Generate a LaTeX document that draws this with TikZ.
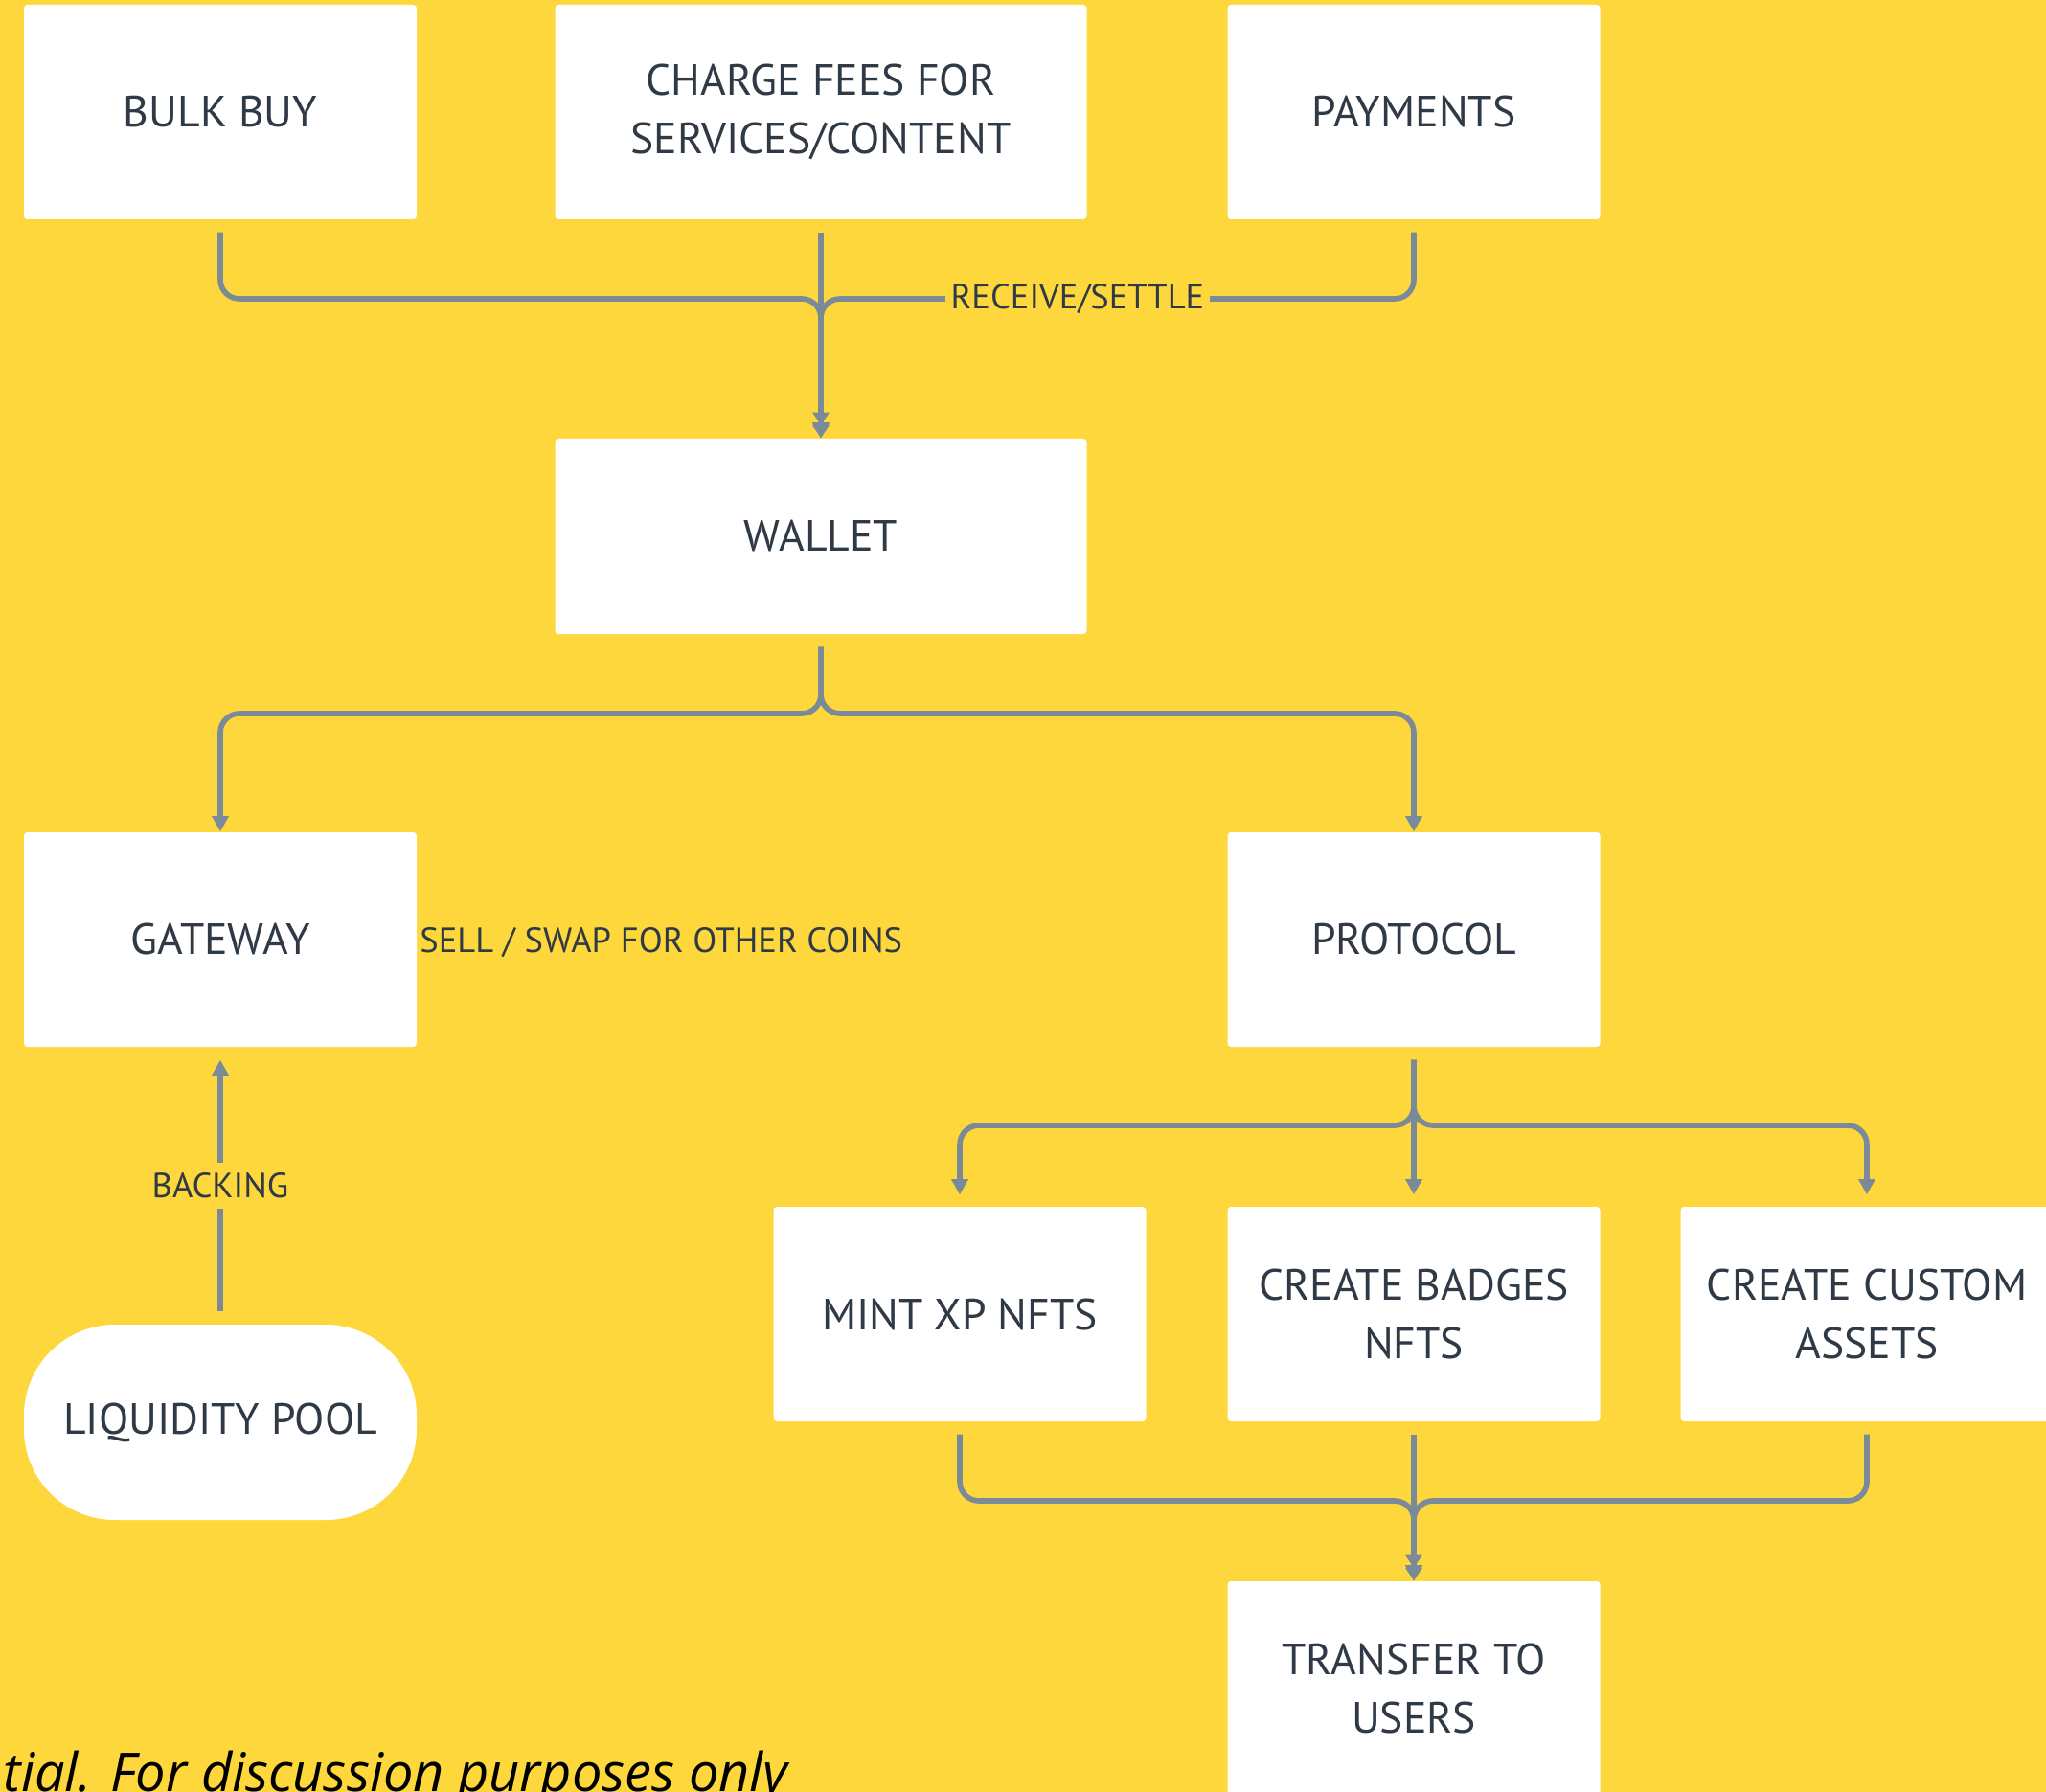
\documentclass[tikz,border=0pt]{standalone}
\usepackage{fontspec}
\setmainfont{PT Sans}
\newfontfamily\notefont{Open Sans}
\usetikzlibrary{arrows.meta,calc}
\definecolor{bgyellow}{RGB}{253,215,59}
\definecolor{linkgray}{RGB}{122,138,153}
\definecolor{txtdark}{RGB}{47,58,70}

\begin{document}
\begin{tikzpicture}[
		box/.style={fill=white, rounded corners=1pt, minimum width=#1, minimum height=2.24cm, inner sep=0pt, align=center, text=txtdark, font=\fontsize{13}{17.3}\selectfont},
		box/.default=3.89cm,
		link/.style={draw=linkgray, line width=1.6pt, rounded corners=0.2cm, shorten <=0.13cm, -{Triangle[width=4.8pt,length=4.6pt]}},
		merge/.style={link, -{Triangle[width=4.8pt,length=3.8pt] Triangle[width=4.8pt,length=3.8pt]}},
		lbl/.style={fill=bgyellow, inner sep=1.5pt, text=txtdark, font=\fontsize{10.4}{12}\selectfont}
	]
		\fill[bgyellow] (0,0) rectangle (21.36,-18.71);
		\useasboundingbox (0,0) rectangle (21.36,-18.71);

		\node[box=4.1cm] (bulk) at (2.30,-1.17) {BULK BUY};
		\node[box=5.55cm] (fees) at (8.57,-1.17) {CHARGE FEES FOR\\SERVICES/CONTENT};
		\node[box] (pay) at (14.76,-1.17) {PAYMENTS};
		\node[box=5.55cm, minimum height=2.04cm] (wal) at (8.57,-5.60) {WALLET};
		\node[box=4.1cm] (gate) at (2.30,-9.81) {GATEWAY};
		\node[box] (prot) at (14.76,-9.81) {PROTOCOL};
		\node[box] (mint) at (10.02,-13.72) {MINT XP NFTS};
		\node[box] (badge) at (14.76,-13.72) {CREATE BADGES\\NFTS};
		\node[box] (cust) at (19.49,-13.72) {CREATE CUSTOM\\ASSETS};
		\node[box] (trans) at (14.76,-17.63) {TRANSFER TO\\USERS};
		\node[box=4.1cm, minimum height=2.04cm, rounded corners=0.95cm] (pool) at (2.30,-14.85) {LIQUIDITY POOL};

		\coordinate (jtop) at (8.57,-3.12);
		\coordinate (jwal) at (8.57,-7.45);
		\coordinate (jprot) at (14.76,-11.75);
		\coordinate (jbot) at (14.76,-15.67);

		\draw[link] (bulk.south) |- (jtop) -- (wal.north);
		\draw[link] (pay.south) |- (jtop) -- (wal.north);
		\draw[merge] (fees.south) -- (wal.north);
		\node[lbl] (recv) at (11.25,-3.12) {RECEIVE/SETTLE};

		\draw[link] (wal.south) -- (jwal) -| (gate.north);
		\draw[link] (wal.south) -- (jwal) -| (prot.north);
		\node[lbl, anchor=west, inner sep=0pt] (sell) at ($(gate.east)+(0.02,-0.03)$) {SELL / SWAP FOR OTHER COINS};

		\foreach \n in {mint,badge,cust}{
			\draw[link, shorten >=0.12cm] (prot.south) -- (jprot) -| (\n.north);
		}
		\draw[link] (mint.south) |- (jbot) -- (trans.north);
		\draw[link] (cust.south) |- (jbot) -- (trans.north);
		\draw[merge] (badge.south) -- (trans.north);

		\draw[link, shorten >=0.13cm] (pool.north) -- (gate.south) node[lbl, midway, inner sep=3pt] (back) {BACKING};

		\node[anchor=base west, inner sep=0pt, font=\notefont\itshape\fontsize{15.9}{19}\selectfont] (note) at (0.03,-18.70) {tial. For discussion purposes only};
	\end{tikzpicture}
\end{document}
